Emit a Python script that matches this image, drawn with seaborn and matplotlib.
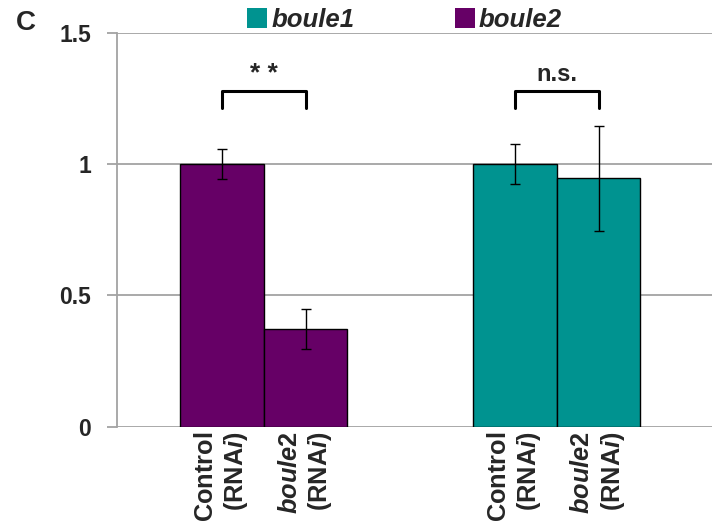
import matplotlib
matplotlib.use('Agg')
import matplotlib.pyplot as plt
import matplotlib.transforms as mtransforms
from matplotlib.patches import Patch
from matplotlib.container import BarContainer
import seaborn as sns
import pandas as pd

# data (relative expression, mean +/- error)
genes = ['boule2', 'boule1']
conditions = ['Control', 'boule2 RNAi']
boule2_values = [1.0, 0.372]
boule2_errors = [0.056, 0.077]
boule1_values = [1.0, 0.946]
boule1_errors = [0.075, 0.200]
tick_labels = ['$\\mathrm{Control}$\n$\\mathrm{(RNA}\\mathit{i}\\mathrm{)}$',
               '$\\mathit{boule2}$\n$\\mathrm{(RNA}\\mathit{i}\\mathrm{)}$']
sig_labels = ['* *', 'n.s.']
bracket_top = 1.278
bracket_bottom = 1.215

gene_colors = {'boule1': '#009390', 'boule2': '#660066'}
grid_color = '#A3A3A3'

sns.set_style('white')
plt.rcParams['font.family'] = ['Liberation Sans', 'DejaVu Sans']
plt.rcParams['font.weight'] = 'bold'
plt.rcParams['mathtext.fontset'] = 'custom'
plt.rcParams['mathtext.rm'] = 'Liberation Sans:bold'
plt.rcParams['mathtext.it'] = 'Liberation Sans:italic:bold'
plt.rcParams['mathtext.default'] = 'rm'

df = pd.DataFrame({
    'gene': [g for g in genes for _ in conditions],
    'condition': conditions * len(genes),
    'value': boule2_values + boule1_values,
    'err': boule2_errors + boule1_errors,
})

fig = plt.figure(figsize=(7.12, 5.27), dpi=100)
ax = fig.add_axes([0.165, 0.19, 0.835, 0.748])

sns.barplot(data=df, x='gene', y='value', hue='condition', order=genes,
            hue_order=conditions, width=0.57, edgecolor='black', linewidth=1,
            legend=False, ax=ax, zorder=3)

# recolour by gene and add error bars
bar_containers = [c for c in ax.containers if isinstance(c, BarContainer)]
centers = {g: [] for g in genes}
for h, cont in enumerate(bar_containers):
    for g, bar in enumerate(cont):
        gene = genes[g]
        bar.set_facecolor(gene_colors[gene])
        row = df[(df.gene == gene) & (df.condition == conditions[h])].iloc[0]
        cx = bar.get_x() + bar.get_width() / 2
        centers[gene].append(cx)
        ax.errorbar(cx, row['value'], yerr=row['err'], color='black',
                    linewidth=1, capsize=3.5, capthick=1, zorder=4)

# significance brackets
for g, gene in enumerate(genes):
    x0, x1 = sorted(centers[gene])
    ax.plot([x0, x0, x1, x1], [bracket_bottom, bracket_top, bracket_top, bracket_bottom],
            color='black', linewidth=2.2, clip_on=False)
    ax.text((x0 + x1) / 2, bracket_top + 0.02, sig_labels[g], ha='center',
            va='bottom', fontsize=17 if g else 19, fontweight='bold')

ax.set_ylim(0, 1.5)
ax.set_xlim(-0.5, 1.53)
ax.set_yticks([0, 0.5, 1, 1.5])
ax.set_yticklabels(['0', '0.5', '1', '1.5'], fontsize=16.5, fontweight='bold')
ax.yaxis.grid(True, color=grid_color, linewidth=1.3, zorder=0)
ax.set_axisbelow(True)
ax.tick_params(axis='y', length=7, width=1.3, color=grid_color, pad=12, left=True)
ax.set_xticks([])
ax.set_xlabel('')
ax.set_ylabel('')
for side in ['top', 'right', 'bottom']:
    ax.spines[side].set_visible(False)
ax.spines['left'].set_color(grid_color)
ax.spines['left'].set_linewidth(1.3)

# rotated category labels below each bar
trans = mtransforms.blended_transform_factory(ax.transData, ax.transAxes)
for gene in genes:
    for i, cx in enumerate(sorted(centers[gene])):
        ax.text(cx, -0.012, tick_labels[i], transform=trans, rotation=90,
                ha='center', va='top', multialignment='right', fontsize=18.3,
                fontweight='bold', linespacing=1.2)

handles = [Patch(facecolor=gene_colors[g], edgecolor='none') for g in ['boule1', 'boule2']]
fig.legend(handles, ['boule1', 'boule2'], loc='center', bbox_to_anchor=(0.568, 0.962),
           ncol=2, frameon=False, handlelength=0.8, handleheight=0.8,
           handletextpad=0.15, columnspacing=3.9,
           prop={'size': 18.5, 'weight': 'bold', 'style': 'italic'})

fig.text(0.036, 0.957, 'C', fontsize=20, fontweight='bold', ha='center', va='center')

fig.savefig('out.png', dpi=100)
